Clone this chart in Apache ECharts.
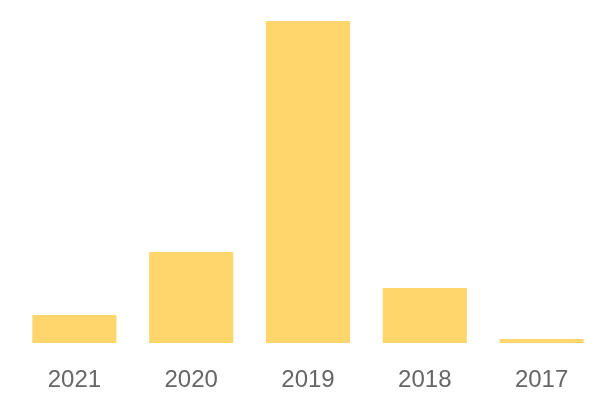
<!DOCTYPE html>
<html><head><meta charset="utf-8">
<script src="https://cdn.jsdelivr.net/npm/echarts@6/dist/echarts.min.js"></script>
<style>html,body{margin:0;padding:0;background:#fff}#c{width:600px;height:400px}</style>
</head><body><div id="c"></div>
<script>
var categories = ['2021', '2020', '2019', '2018', '2017'];
var values = [28, 91, 322, 55, 4];

var chart = echarts.init(document.getElementById('c'));
chart.setOption({
  animation: false,
  grid: { left: 16, right: 0, top: 21, bottom: 57 },
  xAxis: {
    type: 'category',
    data: categories,
    axisLine: { show: false },
    axisTick: { show: false },
    axisLabel: { color: '#666666', fontSize: 24, fontFamily: 'Liberation Sans', margin: 25 }
  },
  yAxis: {
    type: 'value',
    min: 0,
    max: 322,
    show: false,
    splitLine: { show: false }
  },
  series: [{
    type: 'bar',
    data: values,
    barCategoryGap: '28%',
    itemStyle: { color: '#FED66B' }
  }]
});
</script></body></html>
